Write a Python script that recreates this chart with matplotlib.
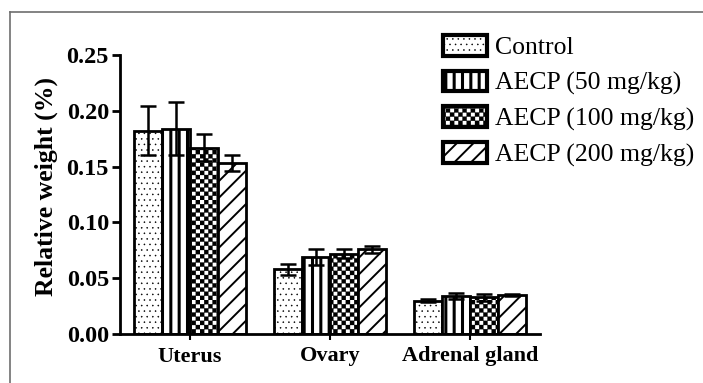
import warnings
import numpy as np
import matplotlib
matplotlib.use("Agg")
import matplotlib as mpl
import matplotlib.pyplot as plt
import matplotlib.hatch as mhatch
from matplotlib.path import Path
from matplotlib.lines import Line2D

warnings.filterwarnings("ignore", category=mpl.MatplotlibDeprecationWarning)

# ---- data -------------------------------------------------------------
organs = ["Uterus", "Ovary", "Adrenal gland"]
groups = ["Control", "AECP (50 mg/kg)", "AECP (100 mg/kg)", "AECP (200 mg/kg)"]
control = [0.182, 0.058, 0.030]
aecp50 = [0.184, 0.069, 0.034]
aecp100 = [0.167, 0.072, 0.033]
aecp200 = [0.153, 0.076, 0.035]
control_err = [0.022, 0.005, 0.001]
aecp50_err = [0.024, 0.007, 0.003]
aecp100_err = [0.012, 0.004, 0.003]
aecp200_err = [0.007, 0.003, 0.001]
yticks = [0.00, 0.05, 0.10, 0.15, 0.20, 0.25]


# ---- checkerboard hatch (filled squares, triggered by '#') -------------
class CheckerHatch(mhatch.HatchPatternBase):
    def __init__(self, hatch, density):
        self.n = hatch.count('#') * density * 4
        self.num_vertices = (self.n * self.n // 2) * 5 if self.n else 0

    def set_vertices_and_codes(self, vertices, codes):
        s = 1.0 / self.n
        sq = np.array([[0, 0], [s, 0], [s, s], [0, s], [0, 0]], float)
        sc = [Path.MOVETO, Path.LINETO, Path.LINETO, Path.LINETO, Path.CLOSEPOLY]
        vs, cs = [], []
        for i in range(self.n):
            for j in range(self.n):
                if (i + j) % 2 == 0:
                    vs.append(sq + [i * s, j * s])
                    cs.append(sc)
        vertices[:] = np.concatenate(vs)
        codes[:] = np.concatenate(cs)


if CheckerHatch not in mhatch._hatch_types:
    mhatch._hatch_types.append(CheckerHatch)

serif = ["Liberation Serif", "DejaVu Serif"]
plt.rcParams["font.family"] = serif

fig = plt.figure(figsize=(7.03, 3.83), dpi=100)
ax = fig.add_axes([120 / 703, 1 - 334 / 383, (540 - 120) / 703, (334 - 55) / 383])

series = [control, aecp50, aecp100, aecp200]
errs = [control_err, aecp50_err, aecp100_err, aecp200_err]
hatches = ["...", "||", "#", "//"]
hatch_lw = [0.35, 2.2, 0.2, 1.4]
width = 0.2
x = np.arange(len(organs))
bar_containers = []
for k, (vals, ee, h, hlw) in enumerate(zip(series, errs, hatches, hatch_lw)):
    pos = x + (k - 1.5) * width
    with plt.rc_context({"hatch.linewidth": hlw}):
        bc = ax.bar(pos, vals, width, color="white", edgecolor="black",
                    linewidth=2.0, hatch=h, label=groups[k], zorder=2)
    for p in bc:
        if hasattr(p, "set_hatch_linewidth"):
            p.set_hatch_linewidth(hlw)
    bar_containers.append(bc)
    ax.errorbar(pos, vals, yerr=ee, fmt="none", ecolor="black",
                elinewidth=1.8, capsize=5.5, capthick=1.8, zorder=3)

ax.set_xlim(-0.5, 2.5)
ax.set_ylim(0, 0.25)
ax.set_yticks(yticks)
ax.set_yticklabels([f"{v:.2f}" for v in yticks])
ax.set_xticks(x)
ax.set_xticklabels(organs)
for s in ["top", "right"]:
    ax.spines[s].set_visible(False)
for s in ["left", "bottom"]:
    ax.spines[s].set_linewidth(2.0)
ax.tick_params(axis="y", direction="out", length=6, width=2.0, pad=2,
               labelsize=17.5)
ax.tick_params(axis="x", direction="out", length=4, width=1.5, pad=5,
               labelsize=16)
for t in ax.get_yticklabels() + ax.get_xticklabels():
    t.set_fontweight("bold")
ax.set_ylabel("Relative weight (%)", fontsize=18.5, fontweight="bold")
ax.yaxis.set_label_coords(-0.148, 0.53)

leg = fig.legend(handles=bar_containers, labels=groups, loc="upper left",
                 bbox_to_anchor=(443 / 703, 1 - 35 / 383), frameon=False,
                 fontsize=18.5, handlelength=1.71, handleheight=0.86,
                 handletextpad=0.3, labelspacing=0.44, borderpad=0,
                 borderaxespad=0)
for p, hlw in zip(leg.get_patches(), hatch_lw):
    p.set_linewidth(3.0)
    if hasattr(p, "set_hatch_linewidth"):
        p.set_hatch_linewidth(hlw)

# grey outer frame along the left and top edges
frame_col = "#6e6e6e"
fig.add_artist(Line2D([10 / 703, 10 / 703], [0, 1 - 12 / 383],
                      transform=fig.transFigure, color=frame_col, lw=1.2))
fig.add_artist(Line2D([10 / 703, 1], [1 - 12 / 383, 1 - 12 / 383],
                      transform=fig.transFigure, color=frame_col, lw=1.2))

fig.savefig("out.png", dpi=100)
